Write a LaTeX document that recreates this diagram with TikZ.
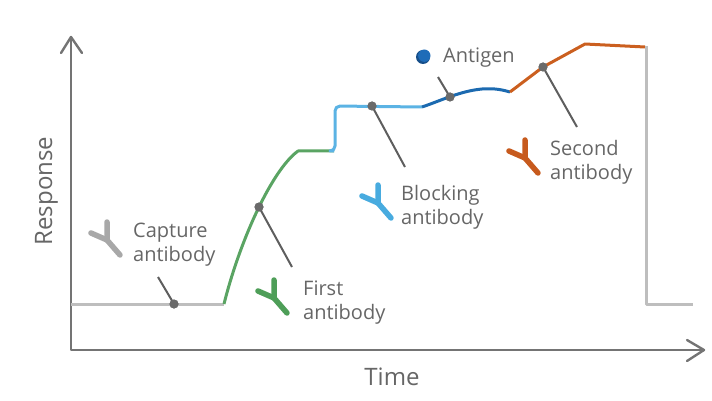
\documentclass[tikz,border=0pt]{standalone}
\usepackage{fontspec}
\setmainfont{Open Sans}
\definecolor{axisc}{HTML}{747474}
\definecolor{grayc}{HTML}{BEBEBE}
\definecolor{greenc}{HTML}{5AA463}
\definecolor{lbluec}{HTML}{5BB3E4}
\definecolor{dbluec}{HTML}{1C6AB0}
\definecolor{orangec}{HTML}{CB5F1F}
\definecolor{textc}{HTML}{666666}
\definecolor{dotc}{HTML}{6A6A6A}
\definecolor{leadc}{HTML}{5E5E5E}
\definecolor{abgray}{HTML}{A8A8A8}
\definecolor{abgreen}{HTML}{4E9E58}
\definecolor{ablblue}{HTML}{48ABDF}
\definecolor{aborange}{HTML}{C75A1D}
\definecolor{agdark}{HTML}{174F8A}
\definecolor{aglight}{HTML}{1F6CB8}
\tikzset{
  axisline/.style={draw=axisc, line width=2.4pt, line cap=round, line join=round},
  curve/.style={line width=3pt, line join=round},
  leader/.style={draw=leadc, line width=2pt},
  dotmark/.style={circle, fill=dotc, inner sep=0pt, minimum size=9pt},
  lbl/.style={text=textc, font=\fontsize{20}{24}\selectfont, inner sep=0pt, anchor=base west},
  axlbl/.style={text=textc, font=\fontsize{24}{28}\selectfont, inner sep=0pt},
  antibody/.pic={
    \draw[line width=5.5pt, line cap=round, line join=round] (0,-18) -- (0,0) -- (13,15);
    \draw[line width=5.5pt, line cap=round] (-16,-7) -- (0,0);
  }
}
\begin{document}
\begin{tikzpicture}[x=1pt, y=-1pt]
\useasboundingbox (0,0) rectangle (712,401);
% axes
\coordinate (origin) at (71,350);
\coordinate (ytip) at (71,37);
\coordinate (xtip) at (704,350);
\coordinate (yw1) at (61,53);
\coordinate (yw2) at (82,53);
\coordinate (xw1) at (687,340);
\coordinate (xw2) at (687,361);
\draw[axisline] (ytip) -- (origin) -- (xtip);
\draw[axisline] (yw1) -- (ytip) -- (yw2);
\draw[axisline] (xw1) -- (xtip) -- (xw2);
% sensorgram
\coordinate (g0) at (71,304);
\coordinate (g1) at (224,304);
\coordinate (gr1) at (298,151);
\coordinate (gr2) at (334,151);
\coordinate (lb1) at (335,106);
\coordinate (lb2) at (422,107);
\coordinate (db1) at (482,89);
\coordinate (db2) at (510,92);
\coordinate (or1) at (543,67);
\coordinate (or2) at (585,44);
\coordinate (or3) at (645,47);
\coordinate (gy1) at (646,304);
\coordinate (gy2) at (693,304);
\draw[curve, grayc] (g0) -- (g1);
\draw[curve, greenc] (g1) .. controls (240,240) and (272,170) .. (gr1) -- (gr2);
\draw[curve, lbluec, rounded corners=5pt] (gr2) -- (335,151) -- (lb1) -- (lb2);
\draw[curve, dbluec] (lb2) .. controls (440,101) and (460,91) .. (db1) .. controls (495,88) and (503,90) .. (db2);
\draw[curve, orangec] (db2) -- (or1) -- (or2) -- (or3);
\draw[curve, grayc] (646,46) -- (gy1) -- (gy2);
% dots
\node[dotmark] (dcap) at (174,304) {};
\node[dotmark] (dfirst) at (259,207) {};
\node[dotmark] (dblock) at (372,106) {};
\node[dotmark] (dantigen) at (450,97) {};
\node[dotmark] (dsecond) at (543,67) {};
% leader ends
\coordinate (ecap) at (158,277);
\coordinate (efirst) at (292,267);
\coordinate (eblock) at (405,167);
\coordinate (eantigen) at (438,77);
\coordinate (esecond) at (577,127);
\draw[leader] (ecap) -- (dcap.center);
\draw[leader] (dfirst.center) -- (efirst);
\draw[leader] (dblock.center) -- (eblock);
\draw[leader] (eantigen) -- (dantigen.center);
\draw[leader] (dsecond.center) -- (esecond);
\node[dotmark] at (dcap) {};
\node[dotmark] at (dfirst) {};
\node[dotmark] at (dblock) {};
\node[dotmark] at (dantigen) {};
\node[dotmark] at (dsecond) {};
% antibodies
\pic[color=abgray] at (107,240) {antibody};
\pic[color=abgreen] at (274,298) {antibody};
\pic[color=ablblue] at (378,203) {antibody};
\pic[color=aborange] at (525,158) {antibody};
% antigen
\fill[agdark] (423,57) circle (7pt);
\fill[aglight] (424.3,55.7) circle (6.2pt);
% labels
\node[lbl] (cap1) at (133,237) {Capture};
\node[lbl] (cap2) at (133,261) {antibody};
\node[lbl] (fir1) at (303,295) {First};
\node[lbl] (fir2) at (303,319) {antibody};
\node[lbl] (blo1) at (401,200) {Blocking};
\node[lbl] (blo2) at (401,224) {antibody};
\node[lbl] (sec1) at (550,155) {Second};
\node[lbl] (sec2) at (550,179) {antibody};
\node[lbl] (ant) at (443,63) {Antigen};
\node[axlbl] (time) at (392,377) {Time};
\node[axlbl, rotate=90, anchor=base] (resp) at (52,191) {Response};
\end{tikzpicture}
\end{document}
